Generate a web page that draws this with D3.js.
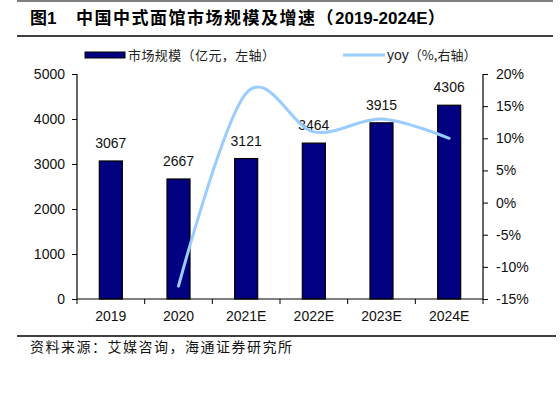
<!DOCTYPE html>
<html><head><meta charset="utf-8">
<script src="https://cdn.jsdelivr.net/npm/d3@7/dist/d3.min.js"></script>
<style>body{margin:0;background:#fff;}svg{display:block;}</style>
</head><body>
<svg id="c" width="560" height="398"></svg>
<script>
const categories = ["2019","2020","2021E","2022E","2023E","2024E"];
const marketSize = [3067,2667,3121,3464,3915,4306];
const yoyYears = ["2020","2021E","2022E","2023E","2024E"];
const yoyValues = [-13.0,17.0,11.0,13.0,10.0];
const leftTicks = [0,1000,2000,3000,4000,5000];
const rightTicks = [-15,-10,-5,0,5,10,15,20];
const titleLabel = "图1";
const titleText = "中国中式面馆市场规模及增速（";
const titleYears = "2019-2024E";
const titleEnd = "）";
const legendBar = "市场规模（亿元，左轴）";
const legendLine = "（%,右轴）";
const sourceText = "资料来源：艾媒咨询，海通证券研究所";

const svg = d3.select("#c");
const latin = "'Liberation Sans', Arial, sans-serif";
const cjk = "'Noto Sans CJK SC', sans-serif";

const L = 77, R = 483, T = 74, B = 299;
const x = d3.scaleBand().domain(categories).range([L, R]).paddingInner(0.66).paddingOuter(0.33);
const yL = d3.scaleLinear().domain([0, 5000]).range([B, T]);
const yR = d3.scaleLinear().domain([-15, 20]).range([B, T]);

// frame lines
svg.append("line").attr("x1",17).attr("x2",553).attr("y1",1).attr("y2",1).attr("stroke","#000").attr("stroke-width",1.2);
svg.append("line").attr("x1",17).attr("x2",553).attr("y1",36).attr("y2",36).attr("stroke","#000").attr("stroke-width",1.5);
svg.append("line").attr("x1",17).attr("x2",556).attr("y1",336).attr("y2",336).attr("stroke","#000").attr("stroke-width",1.5);

// title
const tt = svg.append("text").attr("x",30).attr("y",24).attr("font-size",17).attr("font-weight","bold").attr("fill","#000");
tt.append("tspan").attr("font-family",cjk).text("图");
tt.append("tspan").attr("font-family",latin).text("1");
tt.append("tspan").attr("x",76).attr("font-family",cjk).attr("letter-spacing",1.5).text(titleText);
tt.append("tspan").attr("font-family",latin).text(titleYears);
tt.append("tspan").attr("font-family",cjk).text(titleEnd);

// legend
svg.append("rect").attr("x",85).attr("y",52).attr("width",40).attr("height",6).attr("fill","#000080").attr("stroke","#000").attr("stroke-width",1);
svg.append("text").attr("x",128).attr("y",60).attr("font-family",cjk).attr("font-size",13).attr("letter-spacing",0.4).attr("fill","#222").text(legendBar);
svg.append("line").attr("x1",343).attr("x2",385).attr("y1",55).attr("y2",55).attr("stroke","#99CCFF").attr("stroke-width",3);
const lt = svg.append("text").attr("x",387).attr("y",60).attr("fill","#222");
lt.append("tspan").attr("font-family",latin).attr("font-size",14).text("yoy");
lt.append("tspan").attr("font-family",cjk).attr("font-size",13).text(legendLine);

// bars
svg.append("g").selectAll("rect").data(categories).join("rect")
  .attr("x", d => x(d)).attr("width", x.bandwidth())
  .attr("y", (d,i) => yL(marketSize[i])).attr("height", (d,i) => B - yL(marketSize[i]))
  .attr("fill","#000080").attr("stroke","#000").attr("stroke-width",1.2);

// bar labels
svg.append("g").selectAll("text").data(categories).join("text")
  .attr("x", d => x(d) + x.bandwidth()/2).attr("y", (d,i) => yL(marketSize[i]) - 13)
  .attr("text-anchor","middle").attr("font-family",latin).attr("font-size",14).attr("fill","#111")
  .text((d,i) => marketSize[i]);

// line
const line = d3.line().x((d,i) => x(yoyYears[i]) + x.bandwidth()/2).y(d => yR(d)).curve(d3.curveCardinal.tension(0));
svg.append("path").attr("d", line(yoyValues)).attr("fill","none").attr("stroke","#99CCFF").attr("stroke-width",3).attr("stroke-linecap","round");

// axes
const axL = svg.append("g").attr("transform",`translate(${L},0)`)
  .call(d3.axisLeft(yL).tickValues(leftTicks).tickSize(5).tickPadding(7).tickFormat(d3.format("d")));
const axR = svg.append("g").attr("transform",`translate(${R},0)`)
  .call(d3.axisRight(yR).tickValues(rightTicks).tickSize(5).tickPadding(8).tickFormat(d => d + "%"));
const step = x.step();
const bounds = d3.range(categories.length + 1).map(i => L + i * step);
const axB = svg.append("g").attr("transform",`translate(0,${B})`)
  .call(d3.axisBottom(x).tickSize(0).tickPadding(12));
axB.selectAll(".tick").attr("transform", d => `translate(${x(d) + x.bandwidth()/2},0)`);
axB.append("g").selectAll("line").data(bounds).join("line")
  .attr("x1", d => d).attr("x2", d => d).attr("y1",0).attr("y2",5).attr("stroke","#000");
[axL, axR, axB].forEach(a => {
  a.selectAll("path.domain").attr("stroke","#000").attr("stroke-width",1.2);
  a.selectAll(".tick line").attr("stroke","#000");
  a.selectAll("text").attr("font-family",latin).attr("font-size",14).attr("fill","#111");
});
axB.select("path.domain").attr("d", `M${L},0H${R}`);
axL.select("path.domain").attr("d", `M0,${T}V${B}`);
axR.select("path.domain").attr("d", `M0,${T}V${B}`);

// source
svg.append("text").attr("x",30).attr("y",352).attr("font-family",cjk).attr("font-size",14).attr("letter-spacing",1.5).attr("fill","#111").text(sourceText);
</script>
</body></html>
